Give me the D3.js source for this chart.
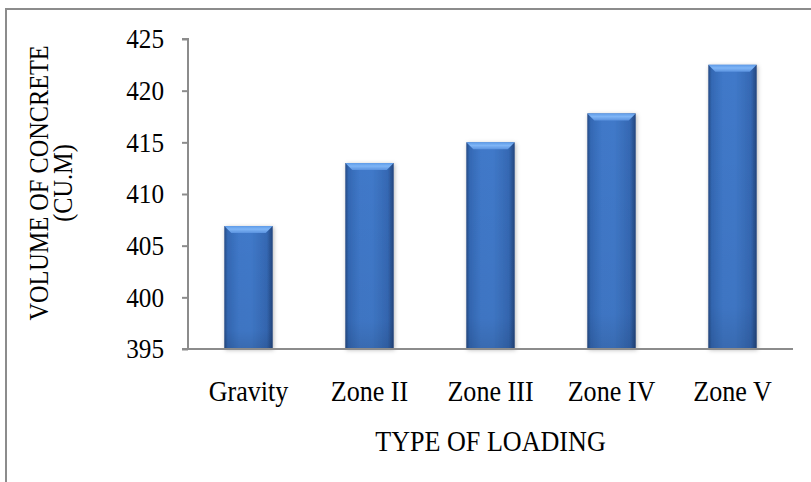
<!DOCTYPE html>
<html>
<head>
<meta charset="utf-8">
<script src="https://cdn.jsdelivr.net/npm/d3@7"></script>
<style>
  html, body { margin: 0; padding: 0; background: #ffffff; }
  svg { display: block; }
  text { font-family: "Liberation Serif", "Times New Roman", serif; fill: #000; }
</style>
</head>
<body>
<svg id="chart" width="811" height="482"></svg>
<script>
// Volume of concrete for each loading case
const categories = ["Gravity", "Zone II", "Zone III", "Zone IV", "Zone V"];
const volumes = [406.9, 413.0, 415.0, 417.8, 422.5];
const yTicks = [395, 400, 405, 410, 415, 420, 425];
const xTitle = "TYPE OF LOADING";
const yTitleLines = ["VOLUME OF CONCRETE", "(CU.M)"];

const svg = d3.select("#chart");
const W = 811, H = 482;
const plot = { left: 188, right: 793, top: 39, bottom: 349 };
const squeeze = 0.9;   // narrow the serif glyphs a little

// narrow a text element horizontally around its own anchor point
function narrow(sel) {
  sel.each(function () {
    const t = d3.select(this);
    const tx = +t.attr("x") || 0, ty = +t.attr("y") || 0;
    t.attr("x", 0).attr("y", 0)
      .attr("transform", `translate(${tx},${ty}) scale(${squeeze},1)`);
  });
}

// outer frame of the chart area
svg.append("rect")
  .attr("x", 6).attr("y", 9)
  .attr("width", W + 20).attr("height", H + 20)
  .attr("fill", "none").attr("stroke", "#8c8c8c").attr("stroke-width", 2);

const x = d3.scaleBand()
  .domain(categories)
  .range([plot.left, plot.right])
  .paddingInner(0.6)
  .paddingOuter(0.3);

const y = d3.scaleLinear()
  .domain([395, 425])
  .range([plot.bottom, plot.top]);

const defs = svg.append("defs");

// body shading: dark edges, brighter middle
const body = defs.append("linearGradient").attr("id", "barBody")
  .attr("x1", "0").attr("x2", "1").attr("y1", "0").attr("y2", "0");
[["0%", "#254a85"], ["7%", "#3468b4"], ["30%", "#3f78c8"], ["55%", "#4079c9"],
 ["88%", "#3568b3"], ["100%", "#22457d"]].forEach(([o, c]) =>
  body.append("stop").attr("offset", o).attr("stop-color", c));

// vertical darkening toward the base
const fade = defs.append("linearGradient").attr("id", "barFade")
  .attr("x1", "0").attr("x2", "0").attr("y1", "0").attr("y2", "1");
fade.append("stop").attr("offset", "0%").attr("stop-color", "#000").attr("stop-opacity", 0);
fade.append("stop").attr("offset", "85%").attr("stop-color", "#000").attr("stop-opacity", 0.03);
fade.append("stop").attr("offset", "100%").attr("stop-color", "#000").attr("stop-opacity", 0.12);

// bright bevel cap
const cap = defs.append("linearGradient").attr("id", "barCap")
  .attr("x1", "0").attr("x2", "0").attr("y1", "0").attr("y2", "1");
cap.append("stop").attr("offset", "0%").attr("stop-color", "#5e9be8");
cap.append("stop").attr("offset", "45%").attr("stop-color", "#7fb5f6");
cap.append("stop").attr("offset", "100%").attr("stop-color", "#5a92df");

const shadow = defs.append("filter").attr("id", "barShadow")
  .attr("x", "-30%").attr("y", "-10%").attr("width", "160%").attr("height", "120%");
shadow.append("feDropShadow").attr("dx", 1).attr("dy", 1)
  .attr("stdDeviation", 2.2).attr("flood-color", "#000").attr("flood-opacity", 0.28);

// y axis
const yAxis = d3.axisLeft(y).tickValues(yTicks).tickSize(6).tickPadding(18)
  .tickFormat(d3.format("d"));
const gy = svg.append("g").attr("transform", `translate(${plot.left},0)`).call(yAxis);
gy.select(".domain").attr("stroke", "#8c8c8c").attr("stroke-width", 2)
  .attr("d", `M-6,${plot.top}H0V${plot.bottom}`);
gy.selectAll(".tick line").attr("stroke", "#8c8c8c").attr("stroke-width", 2);
gy.selectAll(".tick text").style("font-size", "28px")
  .style("font-family", "'Liberation Serif', serif").attr("fill", "#000")
  .call(narrow);

// bars
const bars = svg.append("g").selectAll("g.bar")
  .data(categories.map((c, i) => ({ c, v: volumes[i] })))
  .join("g").attr("class", "bar");

bars.append("rect")
  .attr("x", d => x(d.c)).attr("y", d => y(d.v))
  .attr("width", x.bandwidth()).attr("height", d => y(395) - y(d.v))
  .attr("fill", "url(#barBody)").attr("filter", "url(#barShadow)");

bars.append("rect")
  .attr("x", d => x(d.c)).attr("y", d => y(d.v))
  .attr("width", x.bandwidth()).attr("height", d => y(395) - y(d.v))
  .attr("fill", "url(#barFade)");

const bev = 7;
bars.append("path")
  .attr("d", d => {
    const x0 = x(d.c), x1 = x0 + x.bandwidth(), t = y(d.v);
    return `M${x0},${t}H${x1}L${x1 - bev},${t + bev}H${x0 + bev}Z`;
  })
  .attr("fill", "url(#barCap)");

// x axis baseline
const xAxis = d3.axisBottom(x).tickSize(0).tickPadding(31);
const gx = svg.append("g").attr("transform", `translate(0,${plot.bottom})`).call(xAxis);
gx.select(".domain").attr("stroke", "#8c8c8c").attr("stroke-width", 2)
  .attr("d", `M${plot.left - 6},0H${plot.right}`);
gx.selectAll(".tick text").style("font-size", "29px")
  .style("font-family", "'Liberation Serif', serif").attr("fill", "#000")
  .call(narrow);

// axis titles
svg.append("text")
  .attr("x", (plot.left + plot.right) / 2).attr("y", 451)
  .attr("text-anchor", "middle").style("font-size", "29px")
  .text(xTitle)
  .call(narrow);

const yt = svg.append("text")
  .attr("transform", `translate(48,183) rotate(-90) scale(${squeeze},1)`)
  .attr("text-anchor", "middle").style("font-size", "27px");
yTitleLines.forEach((t, i) =>
  yt.append("tspan").attr("x", 0).attr("dy", i === 0 ? 0 : 24).text(t));
</script>
</body>
</html>
